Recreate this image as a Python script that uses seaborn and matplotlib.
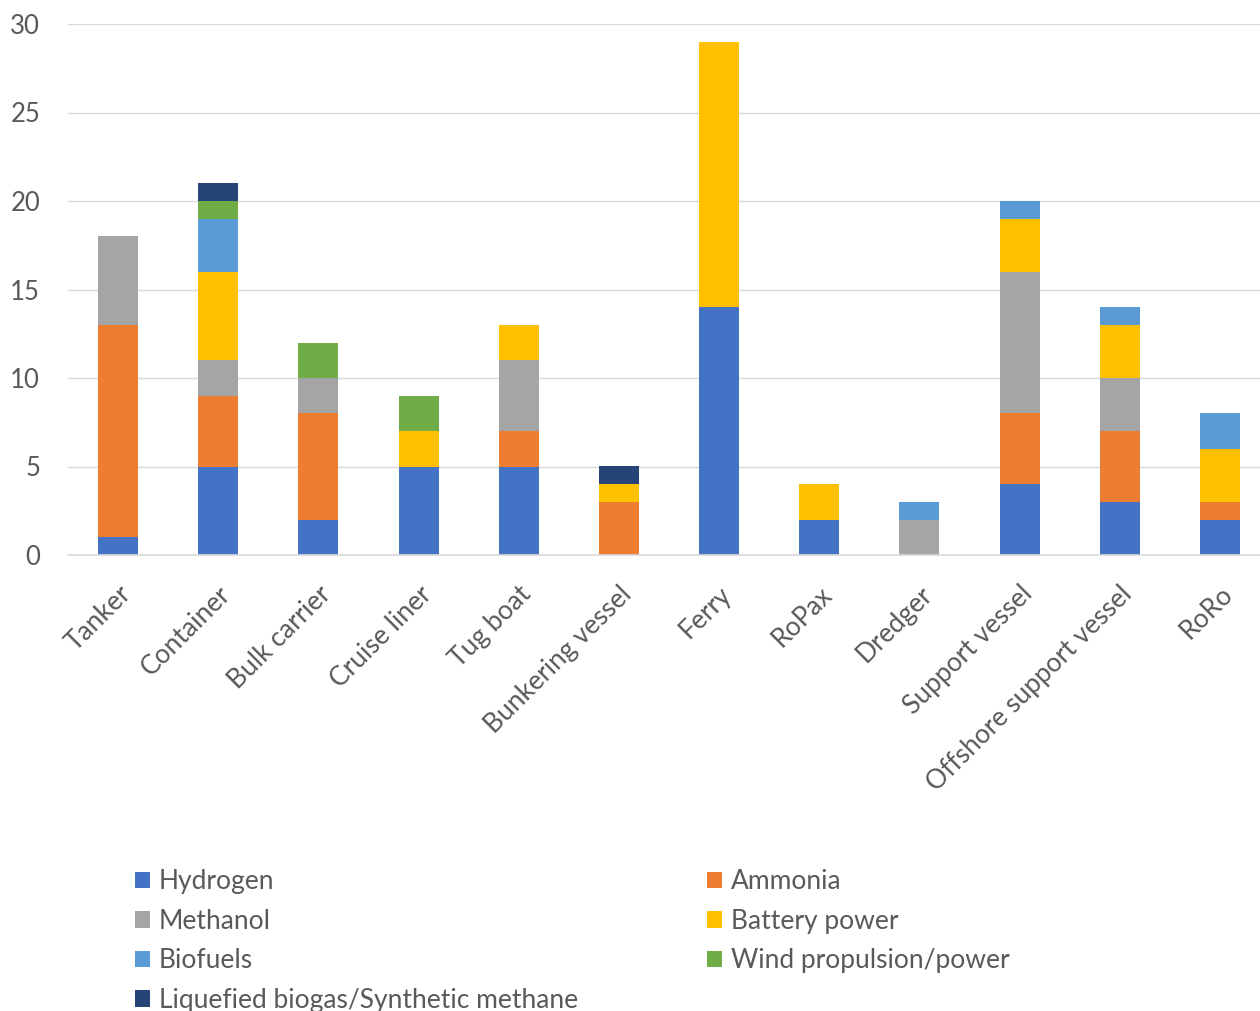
import matplotlib
matplotlib.use("Agg")
import matplotlib.pyplot as plt
import matplotlib.transforms as mtransforms
import seaborn as sns
import numpy as np
import pandas as pd
from matplotlib.patches import Patch

categories = ["Tanker", "Container", "Bulk carrier", "Cruise liner", "Tug boat",
              "Bunkering vessel", "Ferry", "RoPax", "Dredger", "Support vessel",
              "Offshore support vessel", "RoRo"]
hydrogen = [1, 5, 2, 5, 5, 0, 14, 2, 0, 4, 3, 2]
ammonia = [12, 4, 6, 0, 2, 3, 0, 0, 0, 4, 4, 1]
methanol = [5, 2, 2, 0, 4, 0, 0, 0, 2, 8, 3, 0]
battery = [0, 5, 0, 2, 2, 1, 15, 2, 0, 3, 3, 3]
biofuels = [0, 3, 0, 0, 0, 0, 0, 0, 1, 1, 1, 2]
wind = [0, 1, 2, 2, 0, 0, 0, 0, 0, 0, 0, 0]
lbg = [0, 1, 0, 0, 0, 1, 0, 0, 0, 0, 0, 0]

series_names = ["Hydrogen", "Ammonia", "Methanol", "Battery power", "Biofuels",
                "Wind propulsion/power", "Liquefied biogas/Synthetic methane"]
series_values = [hydrogen, ammonia, methanol, battery, biofuels, wind, lbg]
colors = ["#4472C4", "#ED7D31", "#A5A5A5", "#FFC000", "#5B9BD5", "#70AD47", "#264478"]
y_ticks = [0, 5, 10, 15, 20, 25, 30]

sns.set_style("white")
plt.rcParams["font.family"] = ["Lato", "DejaVu Sans"]

W, H = 1260, 1011
fig = plt.figure(figsize=(W / 100, H / 100), dpi=100)
ax = fig.add_axes([68 / W, 1 - 555 / H, 1202 / W, (555 - 24) / H])

bottom = np.zeros(len(categories))
for name, vals, col in zip(series_names, series_values, colors):
    df = pd.DataFrame({"cat": categories, "val": vals})
    sns.barplot(data=df, x="cat", y="val", color=col, bottom=bottom, width=0.4,
                ax=ax, saturation=1, linewidth=0, order=categories)
    bottom = bottom + np.array(vals)

fs = 19
ax.set_ylim(0, 30)
ax.set_xlim(-0.5, len(categories) - 0.5)
ax.set_yticks(y_ticks)
ax.set_yticklabels([str(t) for t in y_ticks], fontsize=18.5, color="#595959")
ax.set_xticks(range(len(categories)))
ax.set_xticklabels(categories, rotation=45, ha="right", va="top",
                   rotation_mode="anchor", fontsize=fs, color="#595959")
offset = mtransforms.ScaledTranslation(-1 / 72, 0, fig.dpi_scale_trans)
for lab in ax.get_xticklabels():
    lab.set_transform(lab.get_transform() + offset)
ax.tick_params(axis="y", length=0, pad=20)
ax.tick_params(axis="x", length=0, pad=19)
ax.set_xlabel("")
ax.set_ylabel("")
ax.yaxis.grid(True, color="#D9D9D9", linewidth=1)
ax.set_axisbelow(True)
for s in ["top", "right", "left"]:
    ax.spines[s].set_visible(False)
ax.spines["bottom"].set_color("#D9D9D9")
ax.spines["bottom"].set_linewidth(1.2)

handles = [Patch(facecolor=c, edgecolor="none") for c in colors]
col1 = [0, 2, 4, 6]
col2 = [1, 3, 5]
for idx, xa in ((col1, 122), (col2, 694)):
    fig.legend([handles[i] for i in idx], [series_names[i] for i in idx],
               loc="upper left", bbox_to_anchor=(xa / W, 1 - 856 / H),
               ncol=1, frameon=False, fontsize=fs, handlelength=0.57,
               handleheight=0.57, handletextpad=0.33, labelspacing=0.55,
               labelcolor="#595959", borderpad=0)

fig.savefig("out.png", dpi=100)
